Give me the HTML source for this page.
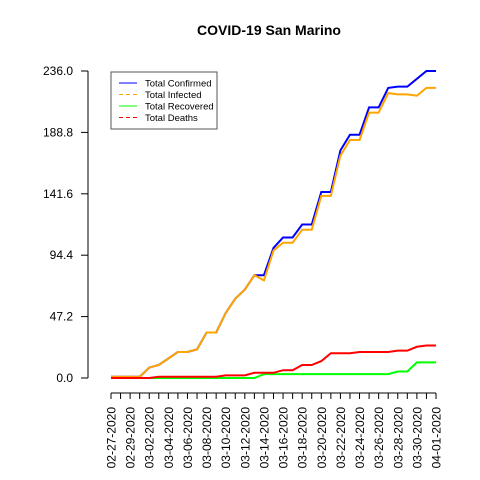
<!DOCTYPE html>
<html><head><meta charset="utf-8"><style>
body{margin:0;background:#fff;}
svg{display:block;font-family:"Liberation Sans",sans-serif;}
</style></head><body>
<svg id="chart" width="480" height="480">
<text x="269" y="35" text-anchor="middle" font-size="14" font-weight="bold">COVID-19 San Marino</text>
<g id="axes"></g>
<g id="series"></g>
<g>
<rect x="111" y="72" width="106" height="57" fill="#fff" stroke="#555" stroke-width="1"/>
<line x1="119" y1="83" x2="137" y2="83" stroke="#0000ff" stroke-width="1"/>
<text x="145" y="86.5" font-size="9.5">Total Confirmed</text>
<line x1="119" y1="94.5" x2="137" y2="94.5" stroke="#ffa500" stroke-width="1" stroke-dasharray="4,3"/>
<text x="145" y="98" font-size="9.5">Total Infected</text>
<line x1="119" y1="106" x2="137" y2="106" stroke="#00ff00" stroke-width="1"/>
<text x="145" y="109.5" font-size="9.5">Total Recovered</text>
<line x1="119" y1="117.5" x2="137" y2="117.5" stroke="#ff0000" stroke-width="1" stroke-dasharray="4,3"/>
<text x="145" y="121" font-size="9.5">Total Deaths</text>
</g>
</svg>
<script>
const dates = ["02-27-2020","02-28-2020","02-29-2020","03-01-2020","03-02-2020","03-03-2020","03-04-2020","03-05-2020","03-06-2020","03-07-2020","03-08-2020","03-09-2020","03-10-2020","03-11-2020","03-12-2020","03-13-2020","03-14-2020","03-15-2020","03-16-2020","03-17-2020","03-18-2020","03-19-2020","03-20-2020","03-21-2020","03-22-2020","03-23-2020","03-24-2020","03-25-2020","03-26-2020","03-27-2020","03-28-2020","03-29-2020","03-30-2020","03-31-2020","04-01-2020"];
const confirmed = [1,1,1,1,8,10,15,20,20,22,35,35,50,61,68,79,79,100,108,108,118,118,143,143,175,187,187,208,208,223,224,224,230,236,236];
const infected = [1,1,1,1,8,10,15,20,20,22,35,35,50,61,68,79,75,98,104,104,114,114,140,140,171,183,183,204,204,219,218,218,217,223,223];
const recovered = [0,0,0,0,0,0,0,0,0,0,0,0,0,0,0,0,3,3,3,3,3,3,3,3,3,3,3,3,3,3,5,5,12,12,12];
const deaths = [0,0,0,0,0,1,1,1,1,1,1,1,2,2,2,4,4,4,6,6,10,10,13,19,19,19,20,20,20,20,21,21,24,25,25];
const yTicks = ["0.0","47.2","94.4","141.6","188.8","236.0"];
const yMax = 236;
const NS="http://www.w3.org/2000/svg";
const x0=111,x1=436,yb=378,yt=71;
function xs(i){return x0+(x1-x0)*i/(dates.length-1);}
function ys(v){return yb-(yb-yt)*v/yMax;}
const axes=document.getElementById('axes');
function mk(tag,attrs,parent){const e=document.createElementNS(NS,tag);for(const k in attrs)e.setAttribute(k,attrs[k]);parent.appendChild(e);return e;}
const ya=mk('line',{x1:88,y1:ys(0),x2:88,y2:ys(yMax),stroke:'#000','stroke-width':1},axes);


yTicks.forEach(t=>{const v=parseFloat(t);
 mk('line',{x1:81,y1:ys(v),x2:88,y2:ys(v),stroke:'#000'},axes);
 const tx=mk('text',{x:73,y:ys(v)+4,'text-anchor':'end','font-size':12},axes);tx.textContent=t;
 
 
});
const xa=mk('line',{x1:xs(0),y1:393,x2:xs(dates.length-1),y2:393,stroke:'#000'},axes);


dates.forEach((d,i)=>{
 mk('line',{x1:xs(i),y1:393,x2:xs(i),y2:399,stroke:'#000'},axes);
 if(i%2===0){const tx=mk('text',{x:0,y:0,'text-anchor':'end','font-size':12,transform:`translate(${xs(i)+4.5},407) rotate(-90)`},axes);tx.textContent=d;
 
 }
});
const sg=document.getElementById('series');
[[confirmed,'#0000ff','line-confirmed'],[infected,'#ffa500','line-infected'],[recovered,'#00ff00','line-recovered'],[deaths,'#ff0000','line-deaths']].forEach(([arr,c,n])=>{
 const p=mk('polyline',{points:arr.map((v,i)=>xs(i)+','+ys(v)).join(' '),fill:'none',stroke:c,'stroke-width':2},sg);
 
 
});
</script>
</body></html>
